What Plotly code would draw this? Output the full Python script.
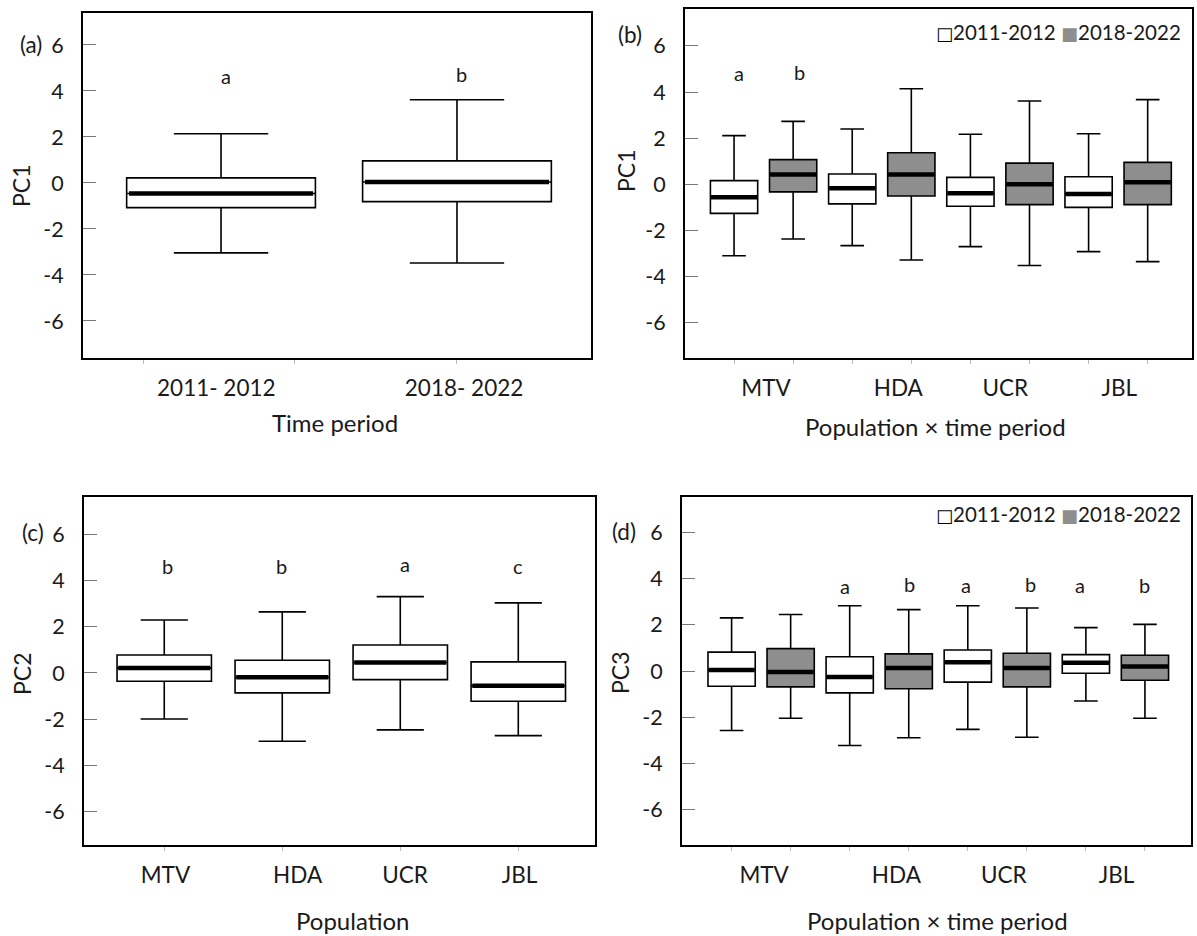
import plotly.graph_objects as go

W, H = 1197, 936
FONT = "Lato"
TXT = "#1a1a1a"
WHITE = "#ffffff"
GRAY = "#8e8e8e"

# ---------------- data ----------------
periods = ["2011-2012", "2018-2022"]
pops = ["MTV", "HDA", "UCR", "JBL"]

# (a) PC1 by time period
a_ticktext = ["2011- 2012", "2018- 2022"]
a_tickpos = [-0.02, 1.03]
a_pos = [0, 1]
a_q1 = [-1.07, -0.81]
a_med = [-0.46, 0.04]
a_q3 = [0.22, 0.96]
a_lo = [-3.04, -3.48]
a_hi = [2.14, 3.62]
a_letters = ["a", "b"]
a_letter_x = [0.02, 1.02]
a_letter_y = [4.64, 4.75]
a_minor = [-0.33, 0.31, 1.0]

# (b) PC1 by population x time period
b_tickpos = [0.54, 2.78, 4.59, 6.52]
b_pos = [0, 1, 2, 3, 4, 5, 6, 7]
b_period = [0, 1, 0, 1, 0, 1, 0, 1]
b_q1 = [-1.26, -0.33, -0.85, -0.51, -0.95, -0.88, -1.00, -0.88]
b_med = [-0.56, 0.42, -0.17, 0.42, -0.39, 0.00, -0.42, 0.09]
b_q3 = [0.16, 1.07, 0.45, 1.37, 0.30, 0.92, 0.33, 0.95]
b_lo = [-3.10, -2.37, -2.66, -3.28, -2.70, -3.52, -2.92, -3.35]
b_hi = [2.11, 2.73, 2.40, 4.14, 2.17, 3.61, 2.19, 3.67]
b_letters = ["a", "b"]
b_letter_x = [0.09, 1.11]
b_letter_y = [4.84, 4.88]

# (c) PC2 by population
c_tickpos = [0.01, 1.13, 2.04, 3.01]
c_pos = [0, 1, 2, 3]
c_q1 = [-0.36, -0.86, -0.29, -1.22]
c_med = [0.22, -0.19, 0.45, -0.55]
c_q3 = [0.78, 0.55, 1.21, 0.48]
c_lo = [-1.99, -2.95, -2.46, -2.71]
c_hi = [2.29, 2.64, 3.30, 3.03]
c_letters = ["b", "b", "a", "c"]
c_letter_x = [0.03, 0.99, 2.04, 3.0]
c_letter_y = [4.64, 4.61, 4.73, 4.64]

# (d) PC3 by population x time period
d_tickpos = [0.55, 2.79, 4.61, 6.52]
d_pos = [0, 1, 2, 3, 4, 5, 6, 7]
d_period = [0, 1, 0, 1, 0, 1, 0, 1]
d_q1 = [-0.66, -0.69, -0.95, -0.77, -0.48, -0.69, -0.10, -0.40]
d_med = [0.04, -0.04, -0.26, 0.13, 0.38, 0.13, 0.36, 0.19]
d_q3 = [0.82, 0.97, 0.62, 0.74, 0.91, 0.77, 0.71, 0.68]
d_lo = [-2.58, -2.05, -3.23, -2.89, -2.53, -2.87, -1.30, -2.05]
d_hi = [2.30, 2.45, 2.83, 2.66, 2.83, 2.73, 1.88, 2.02]
d_letters = ["a", "b", "a", "b", "a", "b"]
d_letter_x = [1.92, 3.01, 3.97, 5.06, 5.90, 6.99]
d_letter_y = [3.68, 3.77, 3.73, 3.77, 3.73, 3.73]

yticks = [-6, -4, -2, 0, 2, 4, 6]
yticktext = ["-6", "-4", "-2", "0", "2", "4", "6"]
BOXW = 0.8

# ---------------- figure ----------------
fig = go.Figure()


def add_boxes(ax, pos, q1, med, q3, lo, hi, fills, names):
    xa = "x" if ax == 1 else "x%d" % ax
    ya = "y" if ax == 1 else "y%d" % ax
    for i, p in enumerate(pos):
        fig.add_trace(go.Box(
            x=[p], q1=[q1[i]], median=[med[i]], q3=[q3[i]],
            lowerfence=[lo[i]], upperfence=[hi[i]],
            width=BOXW, whiskerwidth=0.5, boxpoints=False,
            fillcolor=fills[i], line=dict(color="black", width=1.6),
            name=names[i], showlegend=False,
            hoverinfo="skip", xaxis=xa, yaxis=ya))
        fig.add_trace(go.Scatter(
            x=[p - BOXW / 2 + 0.01, p + BOXW / 2 - 0.01], y=[med[i], med[i]],
            mode="lines", line=dict(color="black", width=4.5),
            showlegend=False, hoverinfo="skip", xaxis=xa, yaxis=ya))


fillmap = [WHITE, GRAY]
add_boxes(1, a_pos, a_q1, a_med, a_q3, a_lo, a_hi, [WHITE] * 2, periods)
add_boxes(2, b_pos, b_q1, b_med, b_q3, b_lo, b_hi,
          [fillmap[k] for k in b_period], [periods[k] for k in b_period])
add_boxes(3, c_pos, c_q1, c_med, c_q3, c_lo, c_hi, [WHITE] * 4, pops)
add_boxes(4, d_pos, d_q1, d_med, d_q3, d_lo, d_hi,
          [fillmap[k] for k in d_period], [periods[k] for k in d_period])

# panel frames in pixels: (left, top, right, bottom)
frames = {1: (83, 13, 591, 358), 2: (685, 9, 1192, 358),
          3: (84, 497, 595, 845), 4: (682, 497, 1191, 845)}
xranges = {1: [-0.585, 1.568], 2: [-0.83, 7.75], 3: [-0.68, 3.65], 4: [-0.84, 7.78]}
yranges = {1: [-7.61, 7.39], 2: [-7.53, 7.60], 3: [-7.44, 7.61], 4: [-7.54, 7.54]}
xtick = {1: (a_tickpos, a_ticktext, a_minor), 2: (b_tickpos, pops, b_pos),
         3: (c_tickpos, pops, c_pos), 4: (d_tickpos, pops, d_pos)}

layout = {}
for k, (l, t, r, b) in frames.items():
    sx = "" if k == 1 else str(k)
    tv, tt, mv = xtick[k]
    layout["xaxis" + sx] = dict(
        domain=[l / W, r / W], range=xranges[k], anchor="y" + sx,
        tickmode="array", tickvals=tv, ticktext=tt, ticks="outside", ticklen=0,
        minor=dict(tickmode="array", tickvals=mv, ticks="outside", ticklen=4,
                   tickcolor="#bbbbbb", tickwidth=1),
        showline=True, mirror=True, linecolor="black", linewidth=2,
        showgrid=False, zeroline=False, ticklabelstandoff=9,
        tickfont=dict(family=FONT, size=22.5, color=TXT))
    layout["yaxis" + sx] = dict(
        domain=[1 - b / H, 1 - t / H], range=yranges[k], anchor="x" + sx,
        tickmode="array", tickvals=yticks, ticktext=yticktext,
        ticks="inside", ticklen=13, tickcolor="#777777", tickwidth=1,
        showline=True, mirror=True, linecolor="black", linewidth=2,
        showgrid=False, zeroline=False, ticklabelstandoff=13,
        tickfont=dict(family=FONT, size=21.5, color=TXT))

ann = []


def letters(k, txt, xs, ys):
    sx = "" if k == 1 else str(k)
    for t, x, y in zip(txt, xs, ys):
        ann.append(dict(text=t, x=x, y=y, xref="x" + sx, yref="y" + sx,
                        showarrow=False, xanchor="center", yanchor="middle",
                        font=dict(family=FONT, size=20, color=TXT)))


letters(1, a_letters, a_letter_x, a_letter_y)
letters(2, b_letters, b_letter_x, b_letter_y)
letters(3, c_letters, c_letter_x, c_letter_y)
letters(4, d_letters, d_letter_x, d_letter_y)


def ptext(t, x, y, size=24, angle=0, xanchor="center"):
    ann.append(dict(text=t, x=x / W, y=1 - y / H, xref="paper", yref="paper",
                    showarrow=False, textangle=angle, xanchor=xanchor,
                    yanchor="middle",
                    font=dict(family=FONT, size=size, color=TXT)))


ptext("(a)", 31, 44, size=22.5)
ptext("(b)", 630, 35, size=22.5)
ptext("(c)", 33, 532, size=22.5)
ptext("(d)", 624, 531, size=22.5)
ptext("PC1", 21, 186, size=23, angle=-90)
ptext("PC1", 626, 171, size=23, angle=-90)
ptext("PC2", 22, 674, size=23, angle=-90)
ptext("PC3", 620, 673, size=23, angle=-90)
ptext("Time period", 335, 423)
ptext("Population × time period", 935, 427)
ptext("Population", 352, 920)
ptext("Population × time period", 937, 920)

# legends for the two population x time period panels
SQ = "font-family:'DejaVu Sans';font-size:18px"
legend_text = ("<b><span style=\"" + SQ + ";color:#000000\">□</span></b>" + periods[0]
               + " <span style=\"" + SQ + ";color:" + GRAY + "\">■</span>"
               + periods[1])
ptext(legend_text, 1183, 32, size=20.5, xanchor="right")
ptext(legend_text, 1183, 514, size=20.5, xanchor="right")

fig.update_layout(
    width=W, height=H, margin=dict(l=0, r=0, t=0, b=0),
    paper_bgcolor="white", plot_bgcolor="white", boxmode="overlay",
    showlegend=False, annotations=ann, **layout)

fig.write_html("out.html")
